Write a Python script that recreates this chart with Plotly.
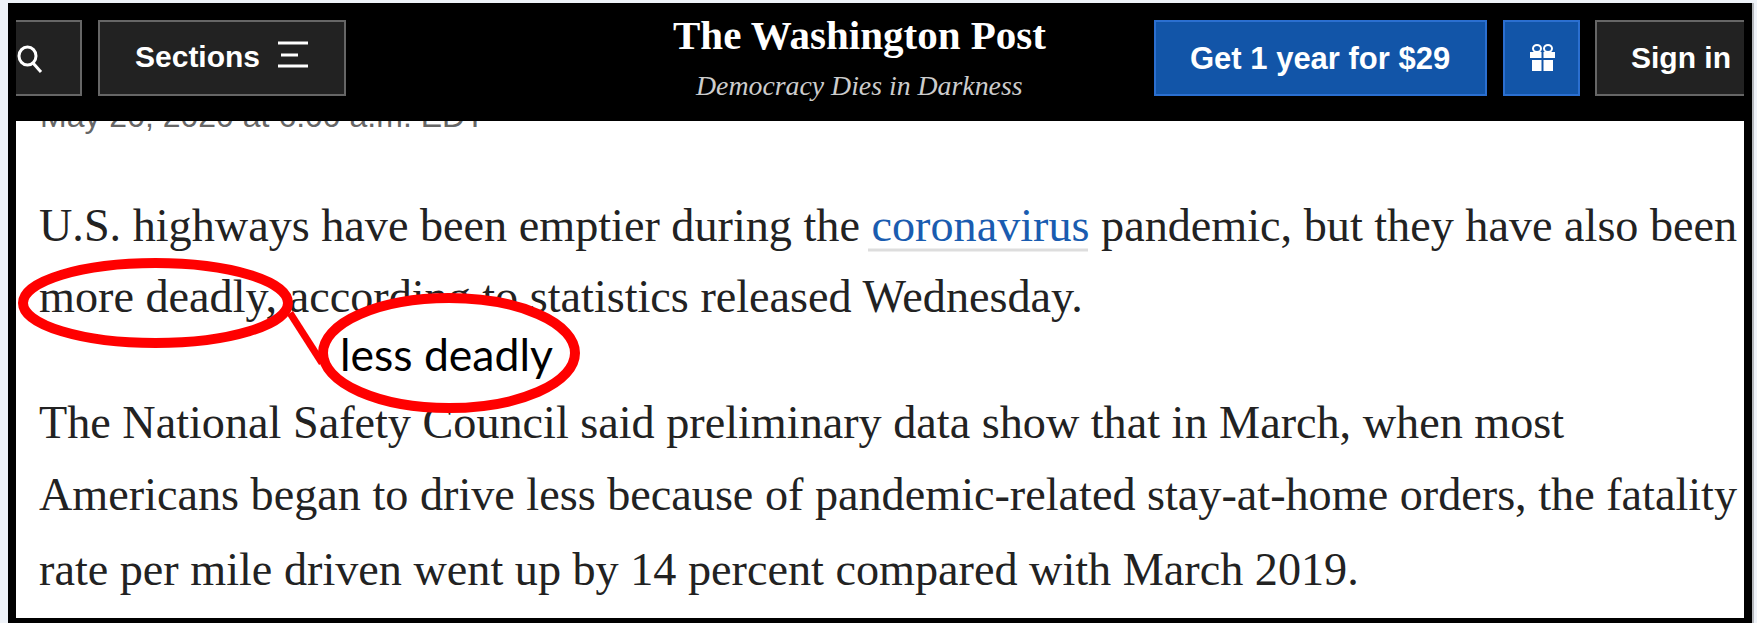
"""Washington Post article screenshot with the red 'less deadly' correction."""
import plotly.graph_objects as go

W, H = 1757, 623

BODY_LINES = [
    'U.S. highways have been emptier during the <span style="color:#1a5cb0">coronavirus</span> pandemic, but they have also been',
    "more deadly, according to statistics released Wednesday.",
    "The National Safety Council said preliminary data show that in March, when most",
    "Americans began to drive less because of pandemic-related stay-at-home orders, the fatality",
    "rate per mile driven went up by 14 percent compared with March 2019.",
]
BODY_X = [39, 39, 39, 39, 39]
BODY_Y = [229, 300, 426, 498, 573]

DATE_TEXT = "May 20, 2020 at 6:00 a.m. EDT"
BG = "#eef2f8"
BLACK = "#000000"
BTN = "#222222"
BTN_LINE = "#666666"
BLUE = "#1255a8"
BLUE_LINE = "#2b6fd0"
RED = "#ff0000"


def rect(x0, y0, x1, y1, fill, line=None, lw=0, layer="above"):
    return dict(type="rect", x0=x0, y0=y0, x1=x1, y1=y1, fillcolor=fill, layer=layer,
                line=dict(color=line or fill, width=lw))


def seg(x0, y0, x1, y1, color, lw, layer="above"):
    return dict(type="line", x0=x0, y0=y0, x1=x1, y1=y1, layer=layer, line=dict(color=color, width=lw))


def label(text, x, y, font, size, color, anchor="left", **kw):
    return dict(text=text, x=x, y=y, xanchor=anchor, yanchor="middle", showarrow=False,
                font=dict(family=font, size=size, color=color), **kw)


shapes = [
    rect(16, 121, 1744, 618, "#ffffff", layer="below"),
    # coronavirus link underline
    seg(868, 250, 1088, 250, "#dddddd", 3, layer="below"),
    # red marks
    dict(type="path", path="M 290 313 L 322 363", layer="above", line=dict(color=RED, width=7)),
    dict(type="circle", x0=23, y0=263, x1=288, y1=343, layer="above", fillcolor="rgba(0,0,0,0)",
         line=dict(color=RED, width=10)),
    dict(type="circle", x0=323, y0=298, x1=575, y1=408, layer="above", fillcolor="#ffffff",
         line=dict(color=RED, width=10)),
    # header and black frame
    rect(8, 3, 1752, 121, BLACK),
    rect(8, 618, 1752, 623, BLACK),
    rect(1752, 3, 1754, 623, "#b5b8bc"),
    # buttons
    rect(10, 21, 81, 95, BTN, BTN_LINE, 2),
    rect(99, 21, 345, 95, BTN, BTN_LINE, 2),
    rect(1155, 21, 1486, 95, BLUE, BLUE_LINE, 2),
    rect(1504, 21, 1579, 95, BLUE, BLUE_LINE, 2),
    rect(1596, 21, 1750, 95, BTN, BTN_LINE, 2),
    # search icon
    dict(type="circle", x0=19, y0=47, x1=36, y1=65, layer="above", fillcolor=BTN,
         line=dict(color="#ffffff", width=3)),
    seg(33, 63, 41, 72, "#ffffff", 3),
    # frame sides cover the clipped buttons
    rect(8, 3, 16, 623, BLACK),
    rect(1744, 3, 1752, 623, BLACK),
    # hamburger icon
    seg(278, 43, 308, 43, "#ffffff", 3),
    seg(281, 55, 298, 55, "#ffffff", 3),
    seg(278, 66, 308, 66, "#ffffff", 3),
    # gift icon
    rect(1530, 52, 1555, 58, "#ffffff"),
    rect(1532, 60, 1553, 71, "#ffffff"),
    dict(type="circle", x0=1533, y0=45, x1=1541, y1=52, layer="above", line=dict(color="#ffffff", width=2)),
    dict(type="circle", x0=1544, y0=45, x1=1552, y1=52, layer="above", line=dict(color="#ffffff", width=2)),
    seg(1542.5, 52, 1542.5, 71, BLUE, 2),
]

annotations = [
    label("<b>The Washington Post</b>", 859, 35, "Liberation Serif", 41, "#ffffff", "center"),
    label("<i>Democracy Dies in Darkness</i>", 859, 85, "Liberation Serif", 27.8, "#cccccc", "center"),
    label("<b>Sections</b>", 133, 56, "Liberation Sans", 30, "#ffffff"),
    label("<b>Get 1 year for $29</b>", 1320, 58, "Liberation Sans", 31, "#ffffff", "center"),
    label("<b>Sign in</b>", 1629, 57, "Liberation Sans", 30, "#ffffff"),
    label("less deadly", 446, 353, "Lato", 44.5, "#000000", "center"),
]

fig = go.Figure()
# text traces sit under the "above" shapes, so the header and white ellipse cover them
fig.add_trace(go.Scatter(x=BODY_X, y=BODY_Y, mode="text", text=BODY_LINES, textposition="middle right",
                         textfont=dict(family="Liberation Serif", size=46.2, color="#222222"),
                         hoverinfo="skip", showlegend=False, cliponaxis=False))
fig.add_trace(go.Scatter(x=[40], y=[119], mode="text", text=[DATE_TEXT], textposition="middle right",
                         textfont=dict(family="Liberation Sans", size=32, color="#666666"),
                         hoverinfo="skip", showlegend=False, cliponaxis=False))

fig.update_xaxes(range=[0, W], visible=False, fixedrange=True)
fig.update_yaxes(range=[H, 0], visible=False, fixedrange=True)
fig.update_layout(width=W, height=H, margin=dict(l=0, r=0, t=0, b=0), paper_bgcolor=BG, plot_bgcolor=BG,
                  shapes=shapes, annotations=annotations, showlegend=False)
# the page's default body margin would push the figure 8px off
fig.write_html("out.html", config={"displayModeBar": False}, default_width=W, default_height=H,
               post_script="document.body.style.margin='0';document.body.style.overflow='hidden';")
